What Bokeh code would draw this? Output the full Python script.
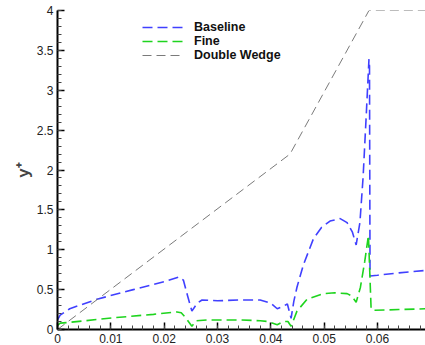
from bokeh.plotting import figure
from bokeh.models import Range1d, FixedTicker, Legend, LegendItem
from bokeh.embed import file_html
from bokeh.resources import INLINE

# ---- data ----
base_x = [0.0, 0.0005, 0.0023, 0.0074, 0.0142, 0.0200, 0.0228, 0.0236, 0.0244, 0.0252,
          0.0262, 0.0271, 0.0300, 0.0340, 0.0380, 0.0400, 0.0412, 0.0423, 0.0431, 0.0438,
          0.0443, 0.0449, 0.0461, 0.0480, 0.0495, 0.0511, 0.0530, 0.0543, 0.0553, 0.0560,
          0.0567, 0.0573, 0.0579, 0.0584, 0.0585, 0.0586, 0.0600, 0.0640, 0.0690]
base_y = [0.12, 0.18, 0.26, 0.38, 0.50, 0.60, 0.66, 0.62, 0.42, 0.23,
          0.33, 0.37, 0.36, 0.37, 0.37, 0.33, 0.26, 0.29, 0.32, 0.14,
          0.35, 0.53, 0.81, 1.14, 1.28, 1.36, 1.39, 1.34, 1.22, 1.06,
          1.34, 1.91, 2.70, 3.39, 3.30, 0.67, 0.68, 0.71, 0.74]

fine_x = [0.0, 0.0005, 0.0023, 0.0110, 0.0180, 0.0224, 0.0232, 0.0240, 0.0252, 0.0260,
          0.0280, 0.0340, 0.0380, 0.0395, 0.0412, 0.0423, 0.0432, 0.0438, 0.0449, 0.0468,
          0.0498, 0.0520, 0.0543, 0.0552, 0.0560, 0.0568, 0.0576, 0.0583, 0.0588, 0.0592,
          0.0640, 0.0690]
fine_y = [0.05, 0.08, 0.09, 0.15, 0.19, 0.22, 0.21, 0.15, 0.04, 0.11,
          0.12, 0.12, 0.11, 0.10, 0.06, 0.10, 0.10, 0.04, 0.23, 0.38,
          0.45, 0.46, 0.45, 0.42, 0.34, 0.53, 0.85, 1.18, 0.26, 0.24,
          0.25, 0.26]

wedge_x = [0.0, 0.0436, 0.0584, 0.0690]
wedge_y = [0.0, 2.20, 4.00, 4.00]

series_names = ["Baseline", "Fine", "Double Wedge"]

x_ticks = [0.0, 0.01, 0.02, 0.03, 0.04, 0.05, 0.06]
x_tick_labels = ["0", "0.01", "0.02", "0.03", "0.04", "0.05", "0.06"]
y_ticks = [0.0, 0.5, 1.0, 1.5, 2.0, 2.5, 3.0, 3.5, 4.0]
y_tick_labels = ["0", "0.5", "1", "1.5", "2", "2.5", "3", "3.5", "4"]

# ---- figure ----
p = figure(width=425, height=345, output_backend="svg", toolbar_location=None,
           x_range=Range1d(0, 0.069), y_range=Range1d(0, 4.0),
           min_border_left=57, min_border_right=0, min_border_top=10, min_border_bottom=0)
p.outline_line_color = None
p.grid.visible = False
p.background_fill_color = "white"

FONT = "Liberation Sans"

r_base = p.line(base_x, base_y, line_color="#4040ff", line_width=1.6, line_dash="10 5")
r_fine = p.line(fine_x, fine_y, line_color="#1ed41e", line_width=1.6, line_dash="10 5")
r_wedge = p.line(wedge_x, wedge_y, line_color="#7a7a7a", line_width=1.0, line_dash="9 5")

# x axis
xminor = [round(i * 0.002, 4) for i in range(0, 35)]
p.xaxis.ticker = FixedTicker(ticks=x_ticks, minor_ticks=xminor)
p.xaxis.major_label_overrides = dict(zip(x_ticks, x_tick_labels))
# y axis
yminor = [round(i * 0.1, 2) for i in range(0, 41)]
p.yaxis.ticker = FixedTicker(ticks=y_ticks, minor_ticks=yminor)
p.yaxis.major_label_overrides = dict(zip(y_ticks, y_tick_labels))
p.yaxis.axis_label = "y\u207a"
p.yaxis.axis_label_text_font = FONT
p.yaxis.axis_label_text_font_style = "bold"
p.yaxis.axis_label_text_font_size = "17px"
p.yaxis.axis_label_standoff = 1

for ax in (p.xaxis, p.yaxis):
    ax.axis_line_color = "black"
    ax.axis_line_width = 2
    ax.major_tick_in = 7
    ax.major_tick_out = 0
    ax.minor_tick_in = 4
    ax.minor_tick_out = 0
    ax.major_tick_line_color = "black"
    ax.major_tick_line_width = 1.5
    ax.minor_tick_line_color = "#444444"
    ax.major_label_text_font = FONT
    ax.major_label_text_font_size = "12px"
    ax.major_label_text_color = "#222222"
    ax.major_label_standoff = 4

legend = Legend(items=[
    LegendItem(label=series_names[0], renderers=[r_base]),
    LegendItem(label=series_names[1], renderers=[r_fine]),
    LegendItem(label=series_names[2], renderers=[r_wedge]),
], location=(85, 267))
legend.background_fill_alpha = 0
legend.border_line_color = None
legend.label_text_font = FONT
legend.label_text_font_style = "bold"
legend.label_text_font_size = "12.5px"
legend.label_text_color = "#111111"
legend.glyph_width = 42
legend.glyph_height = 12
legend.label_standoff = 10
legend.label_height = 12
legend.spacing = 0
legend.padding = 0
legend.margin = 0
p.add_layout(legend, "center")

open("out.html", "w").write(file_html(p, INLINE))
